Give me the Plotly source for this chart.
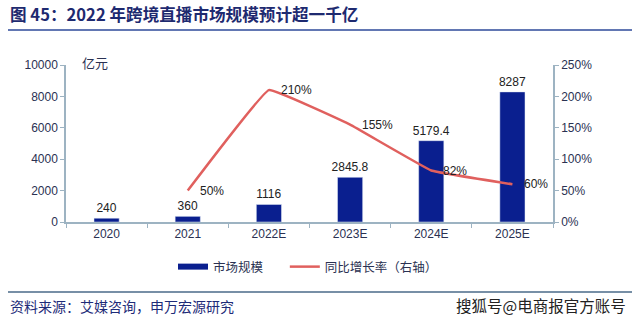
import plotly.graph_objects as go

categories = ["2020", "2021", "2022E", "2023E", "2024E", "2025E"]
market_size = [240, 360, 1116, 2845.8, 5179.4, 8287]
market_labels = ["240", "360", "1116", "2845.8", "5179.4", "8287"]
growth_cats = ["2021", "2022E", "2023E", "2024E", "2025E"]
growth = [50, 210, 155, 82, 60]
growth_labels = ["50%", "210%", "155%", "82%", "60%"]
left_ticks = [0, 2000, 4000, 6000, 8000, 10000]
left_labels = ["0", "2000", "4000", "6000", "8000", "10000"]
right_ticks = [0, 50, 100, 150, 200, 250]
right_labels = ["0%", "50%", "100%", "150%", "200%", "250%"]

NAVY = "#0A1F8F"
RED = "#E0605E"
TXT = "#2A3152"
AXC = "#9DB3C2"
FONT = "Liberation Sans, Arial, Noto Sans CJK SC, sans-serif"
CJK = "Noto Sans CJK SC, sans-serif"

W, H = 640, 322
pl, pr, pt, pb = 66, 87, 65, 100
pw, ph = W - pl - pr, H - pt - pb


def px(x):
    return (x - pl) / pw


def py(y):
    return (H - pb - y) / ph


fig = go.Figure()
fig.add_trace(go.Bar(
    x=categories, y=market_size, marker_color=NAVY, width=0.31,
    text=market_labels, textposition="outside", cliponaxis=False,
    constraintext="none",
    textfont=dict(size=12, color="#222222", family=FONT),
    name="市场规模", showlegend=False, yaxis="y"))
fig.add_trace(go.Scatter(
    x=[categories[0]], y=[None], mode="lines", name="市场规模      ",
    line=dict(color=NAVY, width=6), yaxis="y", hoverinfo="skip"))
fig.add_trace(go.Scatter(
    x=growth_cats, y=growth, mode="lines", name="同比增长率（右轴）",
    line=dict(color=RED, width=2.5, shape="spline", smoothing=0.2),
    yaxis="y2"))

for c, v, t in zip(growth_cats, growth, growth_labels):
    fig.add_annotation(x=categories.index(c), y=v, xref="x", yref="y2", text=t,
                       showarrow=False, xanchor="left", xshift=10,
                       font=dict(size=12, color="#222222", family=FONT))

fig.update_layout(
    width=W, height=H,
    margin=dict(l=pl, r=pr, t=pt, b=pb),
    paper_bgcolor="white", plot_bgcolor="white",
    font=dict(family=FONT, color=TXT, size=12),
    xaxis=dict(type="category", categoryorder="array", categoryarray=categories,
               range=[-0.5, len(categories) - 0.5],
               showline=True, linecolor=AXC, linewidth=1.5, ticks="outside",
               tickcolor=AXC, ticklen=4, tickson="boundaries",
               tickfont=dict(size=12, color=TXT), showgrid=False),
    yaxis=dict(range=[0, 10000], tickvals=left_ticks, ticktext=left_labels,
               showline=True, linecolor=AXC, linewidth=1.5, ticks="outside",
               tickcolor=AXC, ticklen=4, showgrid=False, zeroline=False,
               tickfont=dict(size=12, color=TXT)),
    yaxis2=dict(range=[0, 250], tickvals=right_ticks, ticktext=right_labels,
                overlaying="y", side="right", showline=True, linecolor=AXC,
                linewidth=1.5, ticks="outside", tickcolor=AXC, ticklen=4,
                showgrid=False, zeroline=False,
                tickfont=dict(size=12, color=TXT)),
    legend=dict(orientation="h", x=px(308), xanchor="center", y=py(267),
                yanchor="middle", font=dict(size=12.5, color=TXT, family=CJK),
                itemwidth=30, bgcolor="rgba(0,0,0,0)"),
)

fig.add_annotation(x=px(8), y=py(14), xref="paper", yref="paper",
                   text="<b>图 45：2022 年跨境直播市场规模预计超一千亿</b>",
                   showarrow=False, xanchor="left", yanchor="middle",
                   font=dict(size=16.6, color="#1E2A70", family=CJK))
fig.add_annotation(x=px(80), y=py(62), xref="paper", yref="paper", text="亿元",
                   showarrow=False, xanchor="left", yanchor="middle",
                   font=dict(size=13, color=TXT, family=CJK))
fig.add_annotation(x=px(8), y=py(306), xref="paper", yref="paper",
                   text="资料来源：艾媒咨询，申万宏源研究", showarrow=False,
                   xanchor="left", yanchor="middle",
                   font=dict(size=14, color="#1E2B78", family=CJK))
fig.add_annotation(x=px(628), y=py(305), xref="paper", yref="paper",
                   text="搜狐号@电商报官方账号", showarrow=False,
                   xanchor="right", yanchor="middle",
                   font=dict(size=15.5, color="#222222", family=CJK))
fig.add_shape(type="line", xref="paper", yref="paper", x0=px(8), x1=px(632),
              y0=py(30), y1=py(30), line=dict(color="#2E4A9A", width=1.5))
fig.add_shape(type="line", xref="paper", yref="paper", x0=px(8), x1=px(632),
              y0=py(292), y1=py(292), line=dict(color="#4A6A88", width=1.5))

fig.write_html("out.html")
